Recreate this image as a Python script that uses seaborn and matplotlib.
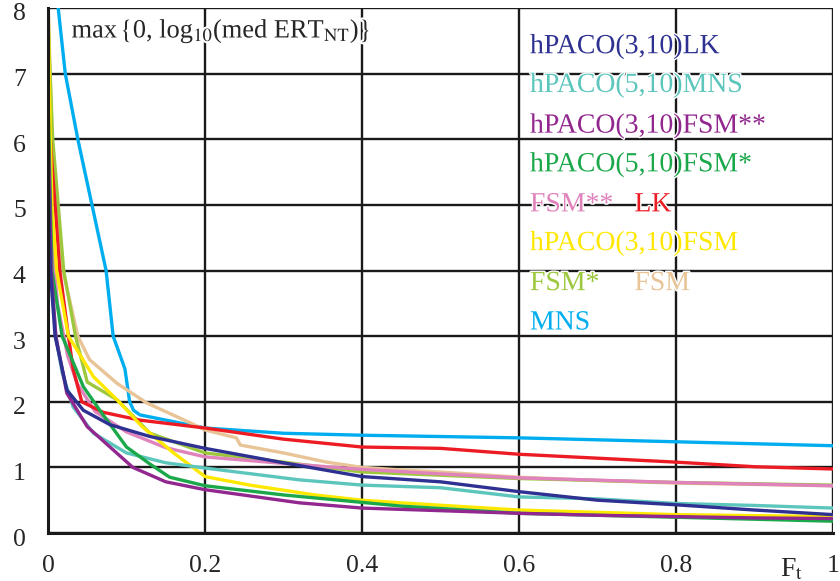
import numpy as np
import pandas as pd
import matplotlib
matplotlib.use("Agg")
import matplotlib.pyplot as plt
import matplotlib.patheffects as pe
import matplotlib.transforms as mtransforms
import seaborn as sns

# curves: F_t vs max{0, log10(med ERT_NT)}
lk3_x = [0, 0.003, 0.009, 0.024, 0.045, 0.079, 0.13, 0.2, 0.3, 0.4, 0.5, 0.6, 0.7, 0.8, 0.9, 1.0]
lk3_y = [5.5, 4.0, 3.0, 2.18, 1.87, 1.65, 1.47, 1.29, 1.07, 0.86, 0.78, 0.63, 0.5, 0.43, 0.35, 0.28]
mns5_x = [0, 0.005, 0.01, 0.018, 0.032, 0.058, 0.1, 0.15, 0.2, 0.32, 0.4, 0.5, 0.6, 0.7, 0.8, 0.9, 1.0]
mns5_y = [5.0, 3.8, 3.0, 2.44, 1.92, 1.52, 1.22, 1.07, 0.99, 0.81, 0.73, 0.69, 0.55, 0.52, 0.45, 0.42, 0.38]
fsm3ss_x = [0, 0.004, 0.01, 0.024, 0.05, 0.079, 0.108, 0.15, 0.2, 0.32, 0.4, 0.5, 0.6, 0.7, 0.8, 0.9, 1.0]
fsm3ss_y = [6.3, 4.0, 3.0, 2.13, 1.62, 1.31, 1.0, 0.78, 0.66, 0.46, 0.38, 0.34, 0.3, 0.27, 0.25, 0.23, 0.22]
fsm5s_x = [0, 0.005, 0.018, 0.045, 0.066, 0.1, 0.13, 0.155, 0.2, 0.3, 0.45, 0.6, 0.8, 1.0]
fsm5s_y = [6.65, 4.0, 3.0, 2.23, 1.87, 1.31, 1.05, 0.85, 0.72, 0.58, 0.41, 0.3, 0.24, 0.18]
fsmss_x = [0, 0.005, 0.012, 0.025, 0.037, 0.06, 0.10, 0.15, 0.2, 0.3, 0.4, 0.5, 0.6, 0.8, 1.0]
fsmss_y = [6.0, 4.5, 3.5, 2.7, 2.28, 1.85, 1.54, 1.3, 1.16, 1.06, 0.97, 0.9, 0.84, 0.77, 0.72]
lk_x = [0, 0.004, 0.009, 0.015, 0.026, 0.032, 0.043, 0.07, 0.117, 0.2, 0.3, 0.4, 0.5, 0.6, 0.7, 0.8, 0.9, 1.0]
lk_y = [6.7, 5.8, 5.0, 4.0, 3.0, 2.5, 2.0, 1.84, 1.72, 1.6, 1.43, 1.31, 1.29, 1.2, 1.14, 1.08, 1.01, 0.975]
fsm3_x = [0, 0.003, 0.005, 0.011, 0.026, 0.058, 0.088, 0.12, 0.16, 0.2, 0.257, 0.34, 0.4, 0.45, 0.6, 0.8, 1.0]
fsm3_y = [8.2, 6.0, 5.0, 4.0, 3.0, 2.38, 2.03, 1.62, 1.22, 0.86, 0.73, 0.58, 0.5, 0.46, 0.35, 0.28, 0.25]
fsms_x = [0, 0.006, 0.013, 0.02, 0.035, 0.05, 0.088, 0.13, 0.2, 0.3, 0.4, 0.5, 0.6, 0.8, 1.0]
fsms_y = [7.8, 6.0, 5.0, 4.0, 3.0, 2.3, 2.03, 1.52, 1.22, 1.08, 0.93, 0.88, 0.83, 0.77, 0.73]
fsm_x = [0, 0.005, 0.012, 0.019, 0.038, 0.053, 0.088, 0.126, 0.181, 0.2, 0.24, 0.245, 0.3, 0.355, 0.4, 0.45, 0.5, 0.6, 0.7, 0.8, 0.9, 1.0]
fsm_y = [8.2, 6, 5, 4, 3, 2.64, 2.28, 1.98, 1.68, 1.57, 1.45, 1.34, 1.22, 1.08, 1.0, 0.96, 0.93, 0.85, 0.8, 0.76, 0.74, 0.72]
mns_x = [0.012, 0.013, 0.022, 0.038, 0.056, 0.074, 0.083, 0.098, 0.104, 0.109, 0.117, 0.2, 0.3, 0.4, 0.5, 0.6, 0.7, 0.8, 0.9, 1.0]
mns_y = [8.3, 8, 7, 6, 5, 4, 3, 2.5, 2.0, 1.87, 1.8, 1.6, 1.52, 1.49, 1.47, 1.45, 1.42, 1.39, 1.36, 1.33]

xticks = [0, 0.2, 0.4, 0.6, 0.8, 1]
xtick_labels = ["0", "0.2", "0.4", "0.6", "0.8", "1"]
yticks = list(range(9))

# drawing order (back to front)
series = [
    ("MNS", mns_x, mns_y, "#00AEEF"),
    ("FSM", fsm_x, fsm_y, "#E8C496"),
    ("FSM*", fsms_x, fsms_y, "#9DC83E"),
    ("FSM**", fsmss_x, fsmss_y, "#E083BD"),
    ("LK", lk_x, lk_y, "#ED1C24"),
    ("hPACO(3,10)FSM", fsm3_x, fsm3_y, "#FFE800"),
    ("hPACO(5,10)MNS", mns5_x, mns5_y, "#5CC6BC"),
    ("hPACO(5,10)FSM*", fsm5s_x, fsm5s_y, "#1BA84A"),
    ("hPACO(3,10)FSM**", fsm3ss_x, fsm3ss_y, "#92278F"),
    ("hPACO(3,10)LK", lk3_x, lk3_y, "#2E3192"),
]

# legend text: (label, x, y) in data coords
labels = [
    ("hPACO(3,10)LK", 0.614, 7.41, "#2E3192"),
    ("hPACO(5,10)MNS", 0.614, 6.82, "#5CC6BC"),
    ("hPACO(3,10)FSM**", 0.614, 6.20, "#92278F"),
    ("hPACO(5,10)FSM*", 0.614, 5.61, "#1BA84A"),
    ("FSM**", 0.614, 5.00, "#E083BD"),
    ("LK", 0.747, 5.00, "#ED1C24"),
    ("hPACO(3,10)FSM", 0.614, 4.41, "#FFE800"),
    ("FSM*", 0.614, 3.80, "#9DC83E"),
    ("FSM", 0.747, 3.80, "#E8C496"),
    ("MNS", 0.614, 3.20, "#00AEEF"),
]

sns.set_style("white")
plt.rcParams['font.family'] = ['Liberation Serif', 'DejaVu Serif']
plt.rcParams['mathtext.fontset'] = 'stix'

fig = plt.figure(figsize=(8.4, 5.81), dpi=100)
ax = fig.add_axes([48/840, 48/581, 785/840, 525/581])

for name, xs, ys, col in series:
    df = pd.DataFrame({"x": xs, "y": ys})
    sns.lineplot(data=df, x="x", y="y", color=col, lw=2.4, sort=False,
                 estimator=None, ax=ax, zorder=3)

ax.set_xlim(0, 1)
ax.set_ylim(0, 8)
ax.set_xticks(xticks)
ax.set_xticklabels(xtick_labels)
ax.set_yticks(yticks)
ax.grid(True, color="#1a1a1a", lw=1.7)
ax.set_axisbelow(True)
for s in ["top", "right"]:
    ax.spines[s].set_visible(False)
for s in ["left", "bottom"]:
    ax.spines[s].set_color("#1a1a1a")
    ax.spines[s].set_linewidth(2.2)
    ax.spines[s].set_zorder(4)
ax.tick_params(axis="both", length=5, width=1.6, color="#1a1a1a",
               labelsize=18.5, direction="out", pad=11)
ax.set_xlabel("")
ax.set_ylabel("")

# y labels sit a little below their ticks in the original
shift = mtransforms.ScaledTranslation(0, -4/100, fig.dpi_scale_trans)
for lab in ax.get_yticklabels():
    lab.set_transform(lab.get_transform() + shift)

ax.text(0.962, -0.36, r"F$_{\rm t}$", fontsize=20, ha="right", va="top",
        transform=ax.transData, clip_on=False)
ax.text(0.03, 7.64, r"max$\,\{$0, log$_{10}$(med ERT$_{\rm NT}$)$\}$", fontsize=19,
        ha="left", va="center", zorder=5,
        path_effects=[pe.withStroke(linewidth=3, foreground="white")])

for txt, x, y, col in labels:
    ax.text(x, y, txt, color=col, fontsize=20, ha="left", va="center", zorder=5,
            path_effects=[pe.withStroke(linewidth=2, foreground="white")])

fig.savefig("out.png", dpi=100)
